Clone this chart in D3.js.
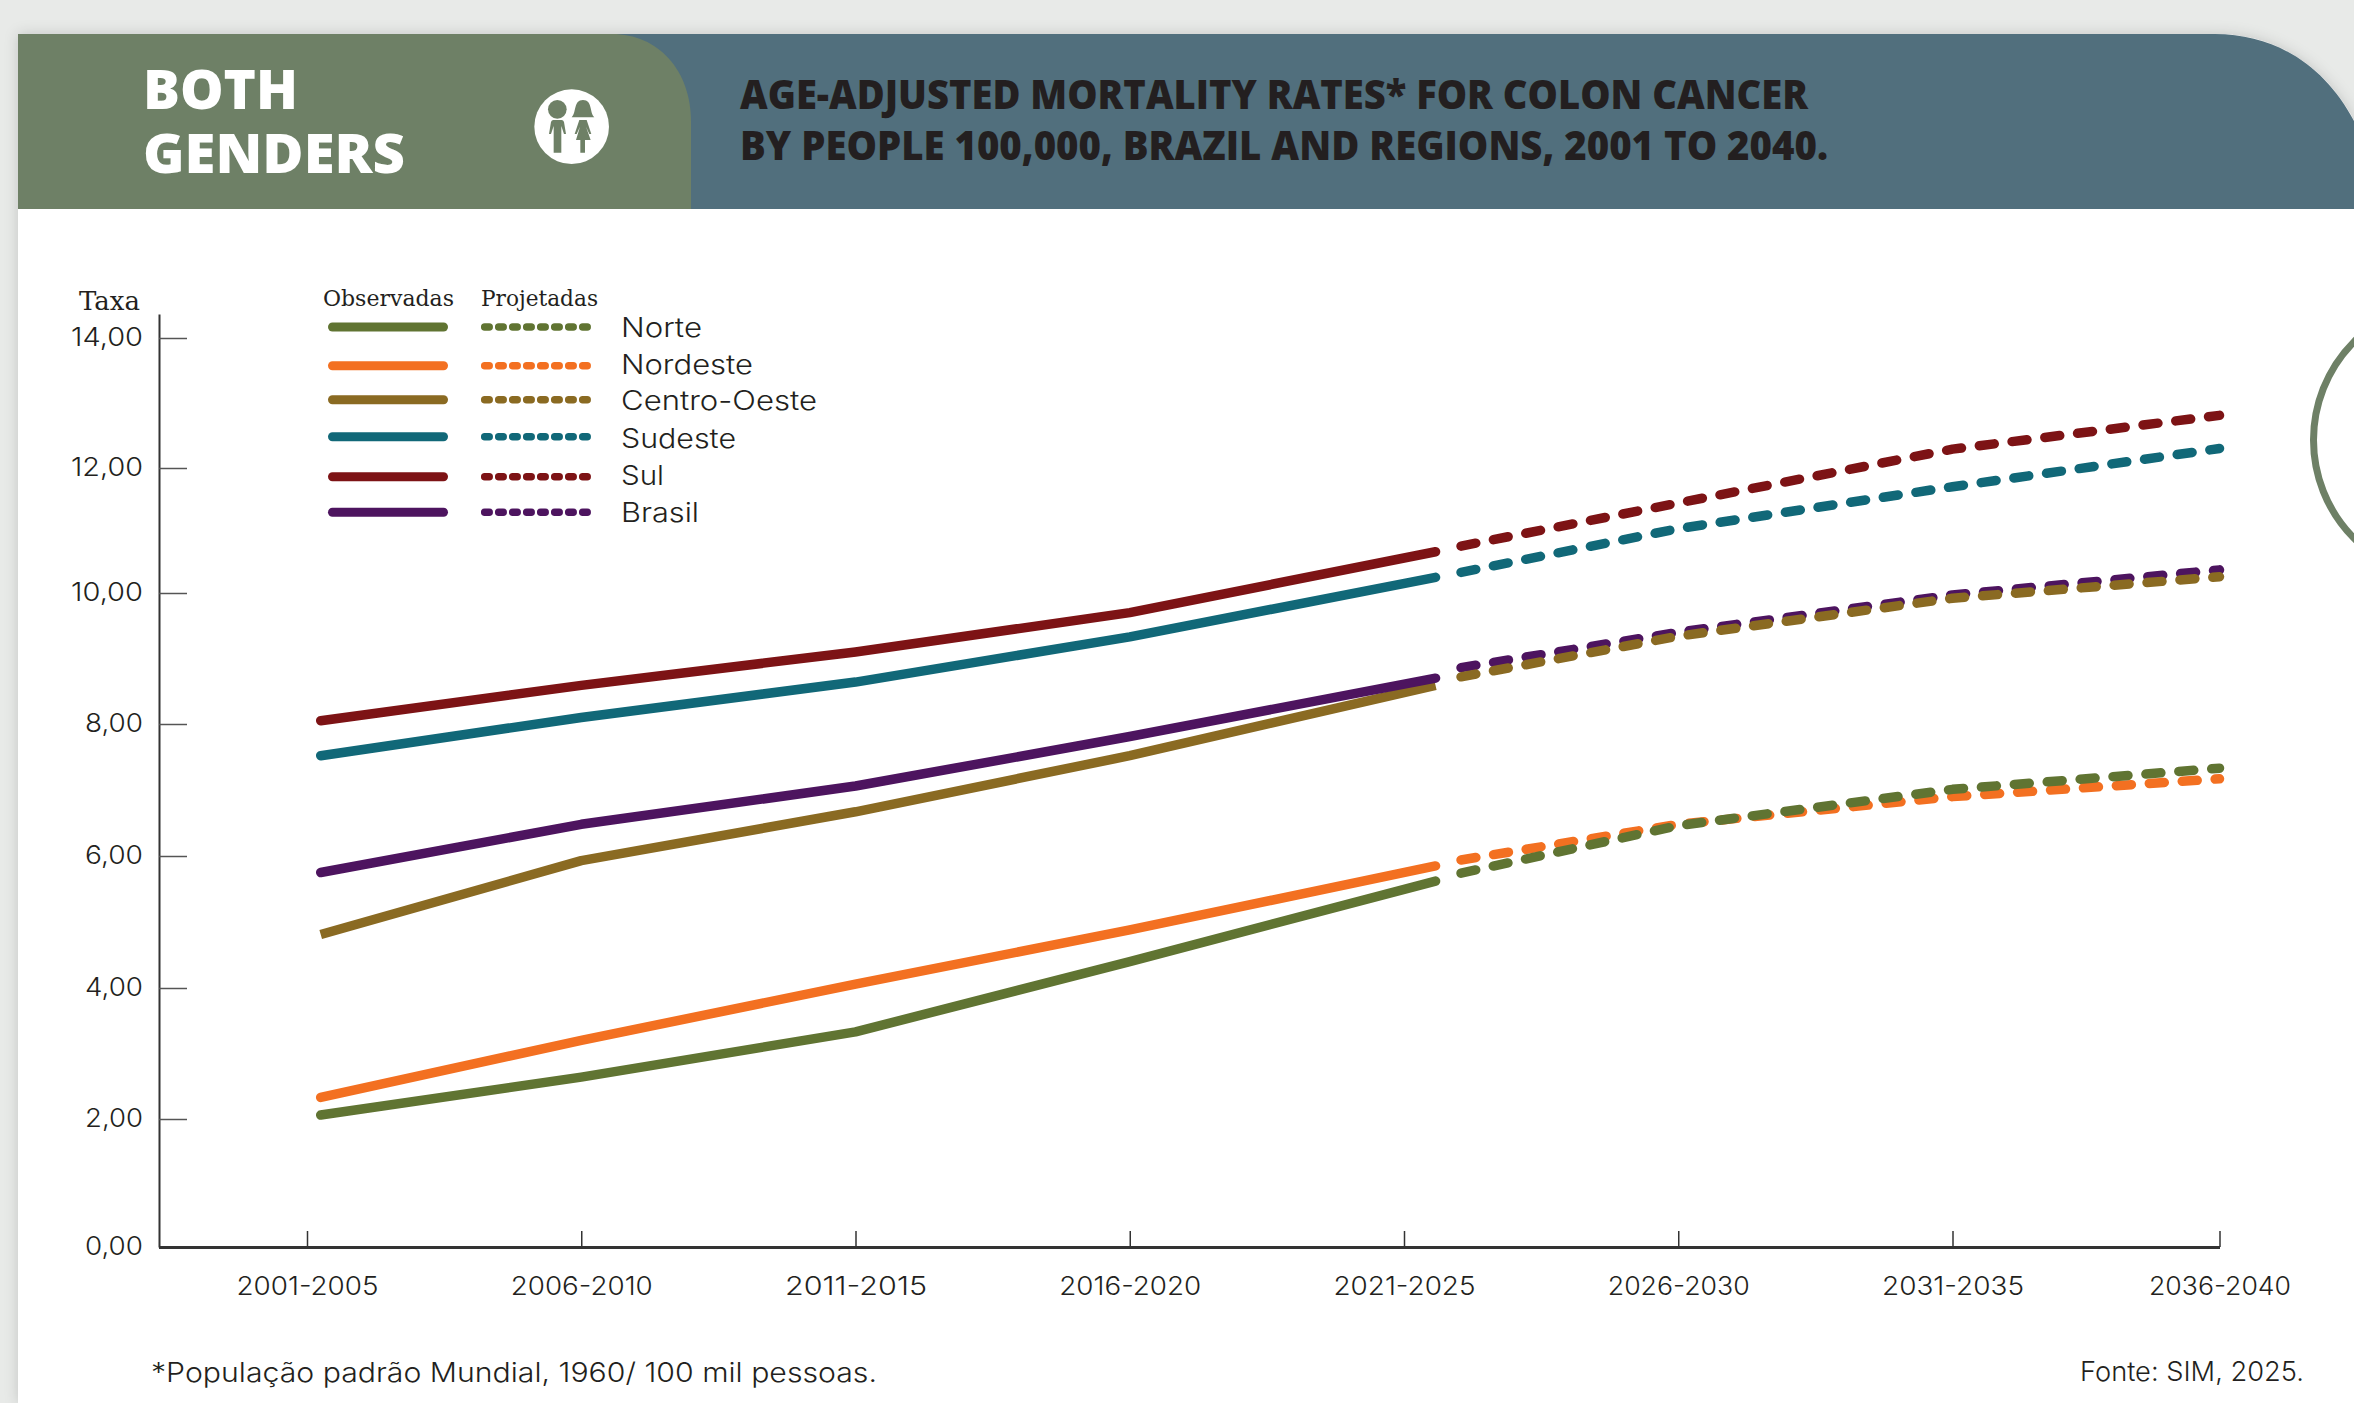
<!DOCTYPE html>
<html>
<head>
<meta charset="utf-8">
<script src="https://cdn.jsdelivr.net/npm/d3@7"></script>
<style>
  html, body { margin: 0; padding: 0; background: #e8eae8; overflow: hidden; }
  svg { display: block; }
  .sans { font-family: "Inter", "Lato", sans-serif; font-weight: 300; fill: #231f20; }
  .slab { font-family: "DejaVu Serif", serif; fill: #231f20; }
  .head { font-family: "Open Sans", sans-serif; font-weight: 800; }
</style>
</head>
<body>
<svg id="chart" width="2354" height="1403"></svg>
<script>
// Five-year periods on the horizontal axis
const periods = ["2001-2005", "2006-2010", "2011-2015", "2016-2020", "2021-2025", "2026-2030", "2031-2035", "2036-2040"];
const rateTicks = [0, 2, 4, 6, 8, 10, 12, 14];

// Period positions (in period units) at which each stretch of line has a reading
const observedSteps = [0.05, 1, 2, 3, 4.115];
const projectedSteps = [4.208, 5, 6, 7];

// Age-adjusted rates per 100,000
const norteObserved = [2.06, 2.64, 3.33, 4.40, 5.62];
const norteProjected = [5.74, 6.46, 7.01, 7.33];
const nordesteObserved = [2.33, 3.20, 4.06, 4.88, 5.85];
const nordesteProjected = [5.94, 6.48, 6.90, 7.17];
const centroObserved = [4.81, 5.93, 6.67, 7.52, 8.59];
const centroProjected = [8.72, 9.34, 9.92, 10.26];
const sudesteObserved = [7.52, 8.10, 8.64, 9.33, 10.25];
const sudesteProjected = [10.33, 11.03, 11.70, 12.30];
const sulObserved = [8.05, 8.59, 9.10, 9.70, 10.66];
const sulProjected = [10.75, 11.44, 12.29, 12.81];
const brasilObserved = [5.75, 6.48, 7.06, 7.81, 8.70];
const brasilProjected = [8.86, 9.40, 9.97, 10.37];

const legendNames = ["Norte", "Nordeste", "Centro-Oeste", "Sudeste", "Sul", "Brasil"];
const seriesColors = ["#607432", "#f37021", "#8a6a22", "#116878", "#7d1315", "#4d145f"];
const observedSeries = [norteObserved, nordesteObserved, centroObserved, sudesteObserved, sulObserved, brasilObserved];
const projectedSeries = [norteProjected, nordesteProjected, centroProjected, sudesteProjected, sulProjected, brasilProjected];

const svg = d3.select("#chart");

const defs = svg.append("defs");
const shadow = defs.append("filter").attr("id", "cardShadow")
  .attr("x", "-5%").attr("y", "-5%").attr("width", "110%").attr("height", "110%");
shadow.append("feDropShadow").attr("dx", 0).attr("dy", 0)
  .attr("stdDeviation", 7).attr("flood-color", "#000").attr("flood-opacity", 0.16);

// Card and its two-tone header
const cardTop = "M18,1403 V34 H2215 C2278,34 2326,68 2354,121";
svg.append("path").attr("d", cardTop + " V1403 Z").attr("fill", "#fff").attr("filter", "url(#cardShadow)");
svg.append("path").attr("d", cardTop + " V209 H18 Z").attr("fill", "#516f7d");
svg.append("path").attr("d", "M18,34 H612 C658,34 691,70 691,122 V209 H18 Z").attr("fill", "#6e8066");

// Ring cut off by the right edge of the page
svg.append("circle").attr("cx", 2453).attr("cy", 440).attr("r", 139.5)
  .attr("fill", "#fff").attr("stroke", "#6e8066").attr("stroke-width", 7);

const headerLabel = [["BOTH", 109, 155], ["GENDERS", 173, 262]];
svg.selectAll("text.badge").data(headerLabel).join("text")
  .attr("class", "badge head")
  .attr("x", 143).attr("y", d => d[1])
  .attr("font-size", 55).attr("fill", "#fff")
  .attr("textLength", d => d[2]).attr("lengthAdjust", "spacingAndGlyphs")
  .text(d => d[0]);

const titleLines = [
  ["AGE-ADJUSTED MORTALITY RATES* FOR COLON CANCER", 109, 1068],
  ["BY PEOPLE 100,000, BRAZIL AND REGIONS, 2001 TO 2040.", 160, 1088]
];
svg.selectAll("text.title").data(titleLines).join("text")
  .attr("class", "title head")
  .attr("x", 740).attr("y", d => d[1])
  .attr("font-size", 40).attr("fill", "#231f20")
  .attr("textLength", d => d[2]).attr("lengthAdjust", "spacingAndGlyphs")
  .text(d => d[0]);

// Man and woman pictogram
const icon = svg.append("g").attr("transform", "translate(500,60) scale(0.3333)");
icon.append("circle").attr("cx", 215).attr("cy", 200).attr("r", 112).attr("fill", "#fff");
icon.append("circle").attr("cx", 172).attr("cy", 148).attr("r", 28).attr("fill", "#6e8066");
icon.append("path").attr("fill", "#6e8066")
  .attr("d", "M160 180 H185 Q190 180 192 186 L198 222 H192 L184 198 V278 H161 V198 L153 222 H147 L153 186 Q155 180 160 180 Z");
icon.append("path").attr("fill", "#6e8066")
  .attr("d", "M215 172 C230 158 220 120 249 120 C278 120 268 158 283 172 Z");
icon.append("path").attr("fill", "#6e8066")
  .attr("d", "M238 180 H260 L274 222 H268 L258 200 L272 240 H255 V278 H241 V240 H228 L240 200 L230 222 H224 Z");

// Scales: the printed axes are not perfectly even, so both are piecewise
const x = d3.scaleLinear()
  .domain([-0.541, 0, 6, 7])
  .range([158.5, 307, 1952.5, 2219.5]);
const y = d3.scaleLinear()
  .domain([0, 2, 4, 6, 8, 10, 12, 14, 14.38])
  .range([1247, 1119, 988, 856, 724, 593, 468, 338, 314]);

const fmt = d => d.toFixed(2).replace(".", ",");

const yAxis = svg.append("g").attr("transform", "translate(159,0)")
  .call(d3.axisLeft(y).tickValues(rateTicks).tickFormat(fmt).tickSize(-28).tickSizeOuter(0).tickPadding(16));
yAxis.select(".domain").attr("stroke", "#333").attr("stroke-width", 2);
yAxis.selectAll(".tick line").attr("stroke", "#555").attr("stroke-width", 1.5);
yAxis.selectAll(".tick text")
  .attr("class", "sans").attr("font-size", 26).attr("font-family", null)
  .attr("dy", 7.5).attr("textLength", d => d >= 10 ? 72 : 58).attr("lengthAdjust", "spacingAndGlyphs");

const periodIndex = periods.map((_, i) => i);
const xAxis = svg.append("g").attr("transform", "translate(0,1247)")
  .call(d3.axisBottom(x).tickValues(periodIndex).tickFormat(i => periods[i]).tickSizeInner(-16).tickSizeOuter(0));
xAxis.select(".domain").attr("stroke", "#333").attr("stroke-width", 3);
xAxis.selectAll(".tick line").attr("stroke", "#333").attr("stroke-width", 1.5);
xAxis.selectAll(".tick text")
  .attr("class", "sans").attr("font-size", 26)
  .attr("y", 47.5).attr("dy", 0).attr("textLength", 142).attr("lengthAdjust", "spacingAndGlyphs");

// Observed and projected lines
const line = steps => d3.line().x((_, i) => x(steps[i])).y(d => y(d));
const observedOrder = [4, 3, 0, 1, 2, 5];
const projectedOrder = [4, 3, 5, 2, 1, 0];

svg.append("g").selectAll("path").data(observedOrder).join("path")
  .attr("d", k => line(observedSteps)(observedSeries[k]))
  .attr("fill", "none").attr("stroke", k => seriesColors[k]).attr("stroke-width", 9.5)
  .attr("stroke-linejoin", "round")
  .attr("stroke-linecap", k => legendNames[k] === "Centro-Oeste" ? "butt" : "round");

svg.append("g").selectAll("path").data(projectedOrder).join("path")
  .attr("d", k => line(projectedSteps)(projectedSeries[k]))
  .attr("fill", "none").attr("stroke", k => seriesColors[k]).attr("stroke-width", 9.5)
  .attr("stroke-dasharray", "15 18").attr("stroke-linecap", "round").attr("stroke-linejoin", "round");

// Legend
const legendY = [327, 365.7, 399.7, 436.7, 476.7, 512.3];
const labelY = [337, 373.5, 410, 447.5, 484.5, 521.5];
const labelWidth = [81, 132, 196, 115, 43, 78];
const legend = svg.append("g");
const rows = legend.selectAll("g").data(legendNames).join("g");
rows.append("line")
  .attr("x1", 332.5).attr("x2", 443.5).attr("y1", (_, i) => legendY[i]).attr("y2", (_, i) => legendY[i])
  .attr("stroke", (_, i) => seriesColors[i]).attr("stroke-width", 9).attr("stroke-linecap", "round");
rows.append("line")
  .attr("x1", 484.7).attr("x2", 587.5).attr("y1", (_, i) => legendY[i]).attr("y2", (_, i) => legendY[i])
  .attr("stroke", (_, i) => seriesColors[i]).attr("stroke-width", 7.5)
  .attr("stroke-linecap", "round").attr("stroke-dasharray", "4.5 9.5");
rows.append("text").attr("class", "sans")
  .attr("x", 621).attr("y", (_, i) => labelY[i])
  .attr("font-size", 27)
  .attr("textLength", (_, i) => labelWidth[i]).attr("lengthAdjust", "spacingAndGlyphs")
  .text(d => d);

// Slab-serif captions
const captions = [["Taxa", 79, 310, 61, 26], ["Observadas", 323, 306, 131, 23], ["Projetadas", 481, 306, 117, 23]];
svg.selectAll("text.cap").data(captions).join("text")
  .attr("class", "cap slab")
  .attr("x", d => d[1]).attr("y", d => d[2]).attr("font-size", d => d[4])
  .attr("textLength", d => d[3]).attr("lengthAdjust", "spacingAndGlyphs")
  .text(d => d[0]);

// Footnotes
svg.append("text").attr("class", "sans").attr("x", 151).attr("y", 1382).attr("font-size", 27)
  .attr("textLength", 726).attr("lengthAdjust", "spacingAndGlyphs")
  .text("*População padrão Mundial, 1960/ 100 mil pessoas.");
svg.append("text").attr("class", "sans").attr("x", 2080).attr("y", 1381).attr("font-size", 27)
  .attr("textLength", 224).attr("lengthAdjust", "spacingAndGlyphs")
  .text("Fonte: SIM, 2025.");
</script>
</body>
</html>
